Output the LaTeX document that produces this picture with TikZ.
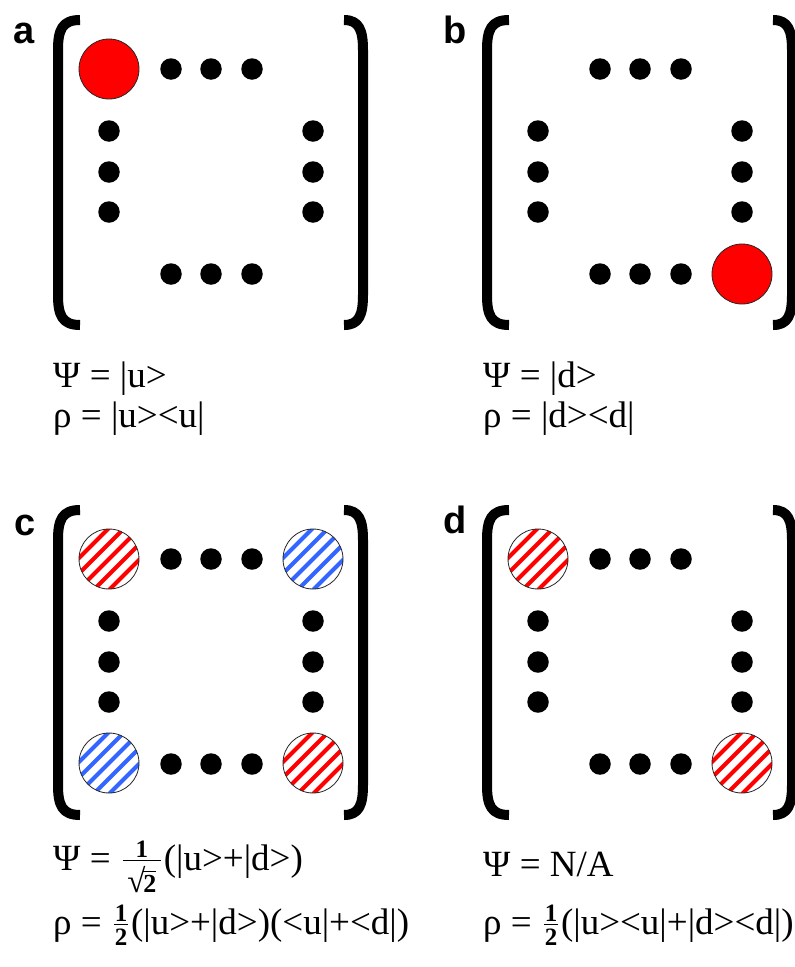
\documentclass[tikz,border=0pt]{standalone}
\usepackage{fontspec}
\setmainfont{Liberation Serif}
\newfontfamily\labelfont{Liberation Sans}
\definecolor{hred}{RGB}{255,0,0}
\definecolor{hblue}{RGB}{51,102,255}
\tikzset{
  dot/.style={circle, fill=black, inner sep=0pt, minimum size=21.5pt},
  solidcirc/.style={circle, fill=hred, draw=black!85, line width=0.8pt, inner sep=0pt, minimum size=60pt},
  hcirc/.style={circle, draw=black!85, line width=0.8pt, inner sep=0pt, minimum size=60pt},
  bracketline/.style={line width=10pt, line join=round},
  lbl/.style={font=\labelfont\bfseries\fontsize{38}{38}\selectfont, inner sep=0pt, anchor=base},
  eq/.style={font=\fontsize{37}{40}\selectfont, inner sep=0pt, anchor=base west},
}
% text-built fractions: #1 width, #2 numerator, #3 denominator, #4 kern below bar, #5 raise
\newcommand\fracbox[5]{%
  \kern3pt\raisebox{#5}{\vbox{\hbox to #1{\hss\fontsize{25}{25}\selectfont\bfseries #2\hss}\kern2.5pt\hrule height 1pt\kern#4\hbox to #1{\hss\fontsize{25}{25}\selectfont\bfseries #3\hss}}}\kern3pt}
\newcommand\sqrttwo{\hbox{\fontsize{33}{33}\selectfont √\kern-2pt\vbox{\hrule height 1.2pt\kern2.5pt\hbox{\fontsize{26}{26}\selectfont\bfseries 2}}}}
\newcommand\panelbase[1]{%
  \draw[bracketline] (80,20) .. controls (62,20) and (58,30) .. (58,50) -- (58,295) .. controls (58,315) and (62,325) .. (80,325);
  \draw[bracketline] (344,20) .. controls (359,20) and (363,30) .. (363,50) -- (363,295) .. controls (363,315) and (359,325) .. (344,325);
  \foreach \i/\xx in {1/171,2/211,3/252} {
    \node[dot] (#1t\i) at (\xx,69) {};
    \node[dot] (#1b\i) at (\xx,274) {};
  }
  \foreach \i/\yy in {1/131,2/172,3/212} {
    \node[dot] (#1l\i) at (109,\yy) {};
    \node[dot] (#1r\i) at (313,\yy) {};
  }
}
\newcommand\hatchcirc[4]{%
  \begin{scope}
    \clip (#2,#3) circle (30pt);
    \foreach \k in {-4,...,4}
      \draw[#4, line width=4pt] (#2+\k*15.5-45,#3+45) -- (#2+\k*15.5+45,#3-45);
  \end{scope}
  \node[hcirc] (#1) at (#2,#3) {};
}
\begin{document}
\begin{tikzpicture}[x=1pt,y=-1pt]
\clip (0,0) rectangle (795,967);
\fill[white] (0,0) rectangle (795,967);

% panel a
\node[lbl] (la) at (24,43) {a};
\panelbase{A}
\node[solidcirc] (ca) at (109,69) {};
\node[eq] (psiA) at (53,387) {Ψ = |u>};
\node[eq] (rhoA) at (53,427) {ρ = |u><u|};

% panel b
\node[lbl] (lb) at (455,43) {b};
\begin{scope}[shift={(429,0)}]
  \panelbase{B}
  \node[solidcirc] (cb) at (313,274) {};
\end{scope}
\node[eq] (psiB) at (483,387) {Ψ = |d>};
\node[eq] (rhoB) at (483,427) {ρ = |d><d|};

% panel c
\node[lbl] (lc) at (25,535) {c};
\begin{scope}[shift={(0,490)}]
  \panelbase{C}
  \hatchcirc{cc1}{109}{69}{hred}
  \hatchcirc{cc2}{313}{69}{hblue}
  \hatchcirc{cc3}{109}{273}{hblue}
  \hatchcirc{cc4}{313}{273}{hred}
\end{scope}
\node[eq] (psiC) at (53,870) {Ψ = \fracbox{38pt}{1}{\sqrttwo}{5pt}{-22pt}(|u>+|d>)};
\node[eq] (rhoC) at (53,934) {ρ = \fracbox{14pt}{1}{2}{3pt}{-11pt}(|u>+|d>)(<u|+<d|)};

% panel d
\node[lbl] (ld) at (455,533) {d};
\begin{scope}[shift={(429,490)}]
  \panelbase{D}
  \hatchcirc{cd1}{109}{69}{hred}
  \hatchcirc{cd4}{313}{273}{hred}
\end{scope}
\node[eq] (psiD) at (483,876) {Ψ = N/A};
\node[eq] (rhoD) at (483,934) {ρ = \fracbox{14pt}{1}{2}{3pt}{-11pt}(|u><u|+|d><d|)};
\end{tikzpicture}
\end{document}
